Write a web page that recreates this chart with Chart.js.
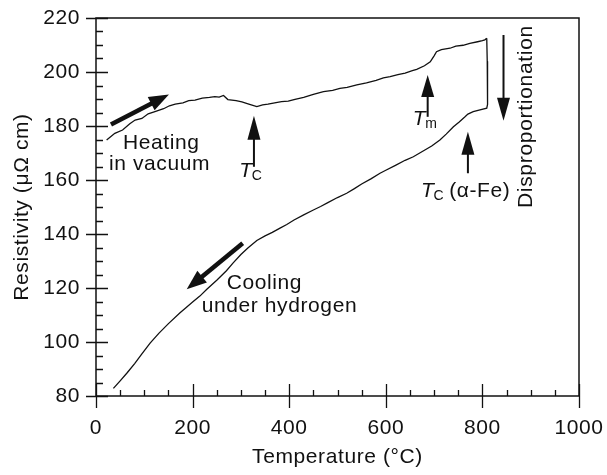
<!DOCTYPE html>
<html>
<head>
<meta charset="utf-8">
<title>Resistivity vs temperature</title>
<script src="https://cdn.jsdelivr.net/npm/chart.js@4.4.1/dist/chart.umd.min.js"></script>
<style>
  html, body { margin: 0; padding: 0; background: #fff; overflow: hidden; }
  #wrap { width: 607px; height: 475px; position: relative; }
</style>
</head>
<body>
<div id="wrap"><canvas id="resChart"></canvas></div>
<script>
// Heating run in vacuum (°C, µΩ cm)
const heatingTemp = [22, 39, 55, 70, 81, 95, 108, 122, 140, 152, 164, 180, 192, 205, 220, 235, 246, 255, 264, 273,
  290, 302, 318, 333, 345, 356, 370, 384, 398, 412, 430, 450, 471, 490, 505, 520, 540, 560, 580, 595,
  609, 625, 640, 655, 664, 680, 692, 700, 705, 715, 733, 745, 760, 774, 790, 800, 805, 809];
const heatingRes = [174.8, 177.3, 178.5, 180.8, 182.2, 182.8, 184.5, 185.3, 186.4, 187.5, 188.1, 188.6, 189.4, 189.6, 190.3, 190.6, 190.9, 190.7, 191.3, 189.8,
  189.4, 188.9, 188.0, 187.2, 187.8, 188.1, 188.6, 189.0, 189.2, 189.9, 190.6, 191.7, 192.7, 193.2, 193.9, 194.3, 195.2, 196.0, 196.9, 197.8,
  198.3, 199.0, 199.6, 200.5, 201.0, 202.3, 203.8, 206.0, 207.5, 208.3, 208.8, 209.6, 209.9, 210.6, 211.2, 211.6, 211.9, 212.5];

// Disproportionation drop at ~810 °C, then cooling under hydrogen
const coolingTemp = [809, 810, 811, 811, 810, 809, 795, 781, 770, 764, 752, 740, 725, 712, 695, 680, 657, 640, 620, 600,
  588, 570, 550, 535, 519, 500, 480, 465, 450, 430, 410, 395, 381, 365, 350, 333, 315, 300, 284, 270,
  250, 230, 215, 200, 185, 174, 150, 130, 112, 95, 80, 65, 50, 36];
const coolingRes = [212.5, 204.0, 198.0, 193.0, 188.0, 186.6, 186.0, 185.3, 184.4, 183.4, 181.5, 179.7, 177.0, 174.8, 172.6, 171.0, 168.6, 167.3, 165.4, 163.6,
  162.5, 160.5, 158.5, 156.8, 155.1, 153.5, 151.6, 150.2, 148.9, 147.1, 145.2, 143.5, 142.2, 140.6, 139.3, 137.6, 134.9, 132.4, 129.3, 126.4,
  122.9, 119.6, 117.0, 114.8, 112.5, 110.8, 106.8, 103.2, 99.6, 95.6, 92.0, 88.7, 85.6, 82.8];

const xTicks = [0, 200, 400, 600, 800, 1000];
const yTicks = [80, 100, 120, 140, 160, 180, 200, 220];

const FONT = "'Liberation Sans', Arial, Helvetica, sans-serif";
const INK = "#111";

function toPoints(xs, ys) {
  return xs.map((x, i) => ({ x: x, y: ys[i] }));
}

// filled arrow between two points given in data units
function drawArrow(chart, x1, y1, x2, y2, shaft, headLen, headW) {
  const { ctx, scales } = chart;
  const ax = scales.x.getPixelForValue(x1), ay = scales.y.getPixelForValue(y1);
  const bx = scales.x.getPixelForValue(x2), by = scales.y.getPixelForValue(y2);
  const ang = Math.atan2(by - ay, bx - ax);
  const baseX = bx - headLen * Math.cos(ang), baseY = by - headLen * Math.sin(ang);
  ctx.save();
  ctx.strokeStyle = INK;
  ctx.fillStyle = INK;
  ctx.lineWidth = shaft;
  ctx.beginPath();
  ctx.moveTo(ax, ay);
  ctx.lineTo(baseX + Math.cos(ang), baseY + Math.sin(ang));
  ctx.stroke();
  const px = -Math.sin(ang) * headW / 2, py = Math.cos(ang) * headW / 2;
  ctx.beginPath();
  ctx.moveTo(bx, by);
  ctx.lineTo(baseX + px, baseY + py);
  ctx.lineTo(baseX - px, baseY - py);
  ctx.closePath();
  ctx.fill();
  ctx.restore();
}

function drawText(chart, text, x, y, font) {
  const { ctx, scales } = chart;
  ctx.save();
  ctx.font = font || "21px " + FONT;
  ctx.letterSpacing = "0.6px";
  ctx.fillStyle = INK;
  ctx.textBaseline = "alphabetic";
  ctx.fillText(text, scales.x.getPixelForValue(x), scales.y.getPixelForValue(y));
  ctx.restore();
}

// italic T with a small upright subscript, then optional trailing text
function drawTemp(chart, sub, x, y, tail) {
  const { ctx, scales } = chart;
  let px = scales.x.getPixelForValue(x);
  const py = scales.y.getPixelForValue(y);
  ctx.save();
  ctx.fillStyle = INK;
  ctx.textBaseline = "alphabetic";
  ctx.font = "italic 21px " + FONT;
  ctx.fillText("T", px, py);
  px += ctx.measureText("T").width - 1;
  ctx.font = "14px " + FONT;
  ctx.fillText(sub, px, py + 3);
  px += ctx.measureText(sub).width + 5;
  if (tail) {
    ctx.font = "21px " + FONT;
    ctx.letterSpacing = "0.6px";
    ctx.fillText(tail, px, py);
  }
  ctx.restore();
}

const frameTicks = {
  id: "frameTicks",
  beforeDraw(chart) {
    chart.ctx.letterSpacing = "0.6px";
  },
  afterDraw(chart) {
    const { ctx, chartArea: a, scales } = chart;
    ctx.save();
    ctx.strokeStyle = INK;
    ctx.lineWidth = 1.5;
    ctx.strokeRect(a.left, a.top, a.right - a.left, a.bottom - a.top);
    ctx.lineWidth = 1.3;
    ctx.beginPath();
    // x axis: major ticks cross the axis, minor ticks every 50 inside
    for (let v = 0; v <= 1000; v += 50) {
      const x = Math.round(scales.x.getPixelForValue(v)) + 0.5;
      const major = v % 200 === 0;
      ctx.moveTo(x, a.bottom + (major ? 12 : 0));
      ctx.lineTo(x, a.bottom - (major ? 12 : 6));
    }
    // y axis: major every 20, minor every 5
    for (let v = 80; v <= 220; v += 5) {
      const y = Math.round(scales.y.getPixelForValue(v)) + 0.5;
      const major = v % 20 === 0;
      ctx.moveTo(a.left - (major ? 10 : 0), y);
      ctx.lineTo(a.left + (major ? 12 : 7), y);
    }
    ctx.stroke();
    ctx.restore();

    // heating / cooling notes
    drawArrow(chart, 31, 180.6, 151, 191.7, 4.5, 20, 15);
    drawText(chart, "Heating", 55.9, 171.5);
    drawText(chart, "in vacuum", 26.9, 163.7);

    drawArrow(chart, 303.7, 136.6, 187.8, 119.5, 4.5, 20, 15);
    drawText(chart, "Cooling", 270.6, 119.5);
    drawText(chart, "under hydrogen", 218.8, 111.2);

    // transition markers
    drawArrow(chart, 327, 164.9, 327, 183.8, 2, 24, 13);
    drawTemp(chart, "C", 296.7, 161.1);

    drawArrow(chart, 686.7, 183.4, 686.7, 198.9, 2, 22, 13);
    drawTemp(chart, "m", 655.7, 180.4);

    drawArrow(chart, 770, 162.5, 770, 177.9, 2, 23, 13);
    drawTemp(chart, "C", 672.9, 153.8, "(\u03b1-Fe)");

    drawArrow(chart, 843.7, 213.7, 843.7, 181.9, 2, 23, 13);
    const dx = scales.x.getPixelForValue(890.3), dy = scales.y.getPixelForValue(149.6);
    ctx.save();
    ctx.translate(dx, dy);
    ctx.rotate(-Math.PI / 2);
    ctx.font = "21px " + FONT;
    ctx.letterSpacing = "0.7px";
    ctx.fillStyle = INK;
    ctx.textBaseline = "middle";
    ctx.fillText("Disproportionation", 0, 0);
    ctx.restore();
  }
};

const lineStyle = {
  showLine: true,
  borderColor: INK,
  borderWidth: 1.3,
  pointRadius: 0,
  tension: 0,
  fill: false
};

new Chart(document.getElementById("resChart"), {
  type: "scatter",
  data: {
    datasets: [
      Object.assign({ label: "Heating in vacuum", data: toPoints(heatingTemp, heatingRes) }, lineStyle),
      Object.assign({ label: "Cooling under hydrogen", data: toPoints(coolingTemp, coolingRes) }, lineStyle)
    ]
  },
  options: {
    responsive: true,
    maintainAspectRatio: false,
    animation: false,
    layout: { autoPadding: false, padding: { top: 18, right: 28, left: 0, bottom: 0 } },
    plugins: { legend: { display: false }, tooltip: { enabled: false } },
    scales: {
      x: {
        type: "linear",
        min: 0,
        max: 1000,
        afterBuildTicks(scale) { scale.ticks = xTicks.map(v => ({ value: v })); },
        afterFit(scale) {
          // fixed box: no room reserved for the end labels
          scale.height = 79;
          scale.paddingLeft = 0;
          scale.paddingRight = 0;
        },
        grid: { display: false, drawTicks: false },
        border: { display: false },
        ticks: {
          color: INK,
          padding: 20,
          font: { size: 21, family: FONT },
          maxRotation: 0,
          callback: v => String(v)
        },
        title: {
          display: true,
          text: "Temperature (\u00b0C)",
          color: INK,
          font: { size: 21, family: FONT },
          padding: { top: 0, bottom: 5 }
        }
      },
      y: {
        type: "linear",
        min: 80,
        max: 220,
        afterBuildTicks(scale) { scale.ticks = yTicks.map(v => ({ value: v })); },
        afterFit(scale) {
          scale.width = 96;
          scale.paddingTop = 0;
          scale.paddingBottom = 0;
        },
        grid: { display: false, drawTicks: false },
        border: { display: false },
        ticks: { color: INK, padding: 16, font: { size: 21, family: FONT }, callback: v => String(v) },
        title: {
          display: true,
          text: "Resistivity (\u03bc\u03a9 cm)",
          color: INK,
          font: { size: 21, family: FONT },
          padding: { top: 10, bottom: 0 }
        }
      }
    }
  },
  plugins: [frameTicks]
});
</script>
</body>
</html>
